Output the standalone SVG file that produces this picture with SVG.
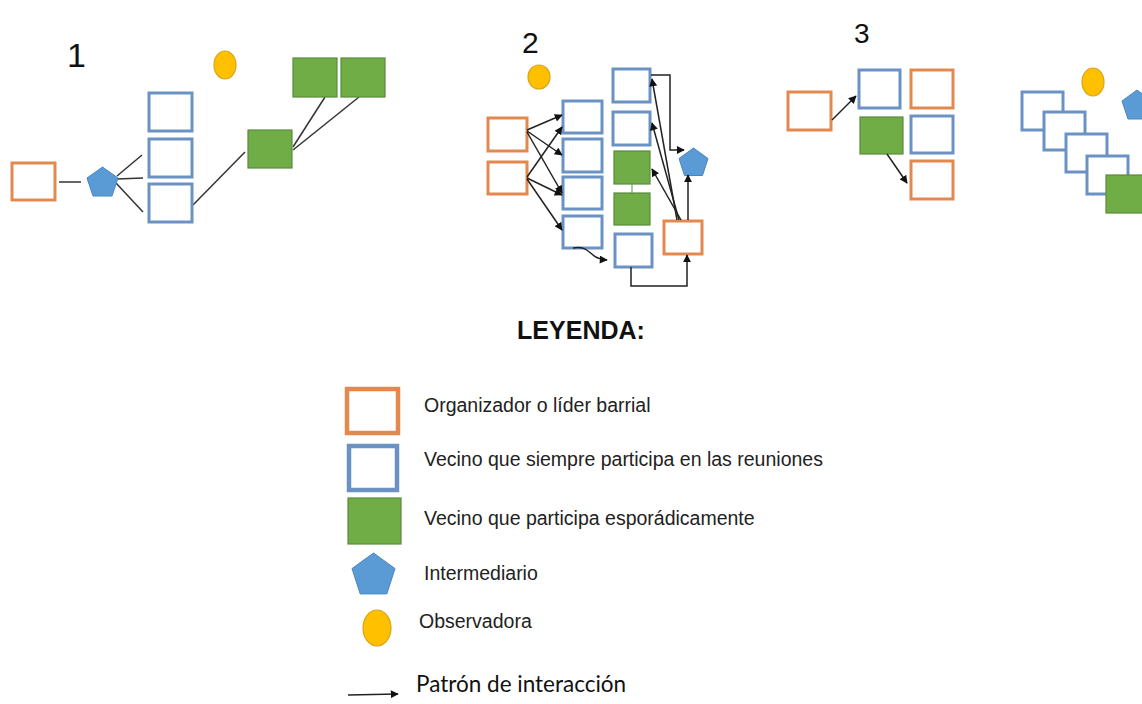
<svg xmlns="http://www.w3.org/2000/svg" width="1142" height="704" viewBox="0 0 1142 704">
<style>
.org{fill:#fff;stroke:#E3894F;stroke-width:3}
.vec{fill:#fff;stroke:#6A93C4;stroke-width:3}
.esp{fill:#70AD47;stroke:#5A8C3A;stroke-width:1.2}
.int{fill:#5B9BD5;stroke:#4A86BE;stroke-width:1}
.obs{fill:#FFC000;stroke:#D9A41A;stroke-width:1.2}
.lnk{fill:none;stroke:#333;stroke-width:1.5}
.arr{fill:none;stroke:#222;stroke-width:1.5;marker-end:url(#ah)}
.num{font-family:"Liberation Sans",Arial,sans-serif;fill:#111}
.leg{font-family:"Liberation Sans",Arial,sans-serif;font-size:19.5px;fill:#222}
.legbox{stroke-width:4.5}
</style>
<defs>
<marker id="ah" viewBox="0 0 10 10" refX="9" refY="5" markerWidth="8.5" markerHeight="8" orient="auto" markerUnits="userSpaceOnUse">
<path d="M0,0 L10,5 L0,10 z" fill="#111"/>
</marker>
</defs>
<rect width="1142" height="704" fill="#fff"/>

<!-- Panel 1 -->
<g id="panel1">
<text class="num" x="67" y="67" font-size="34">1</text>
<g id="p1-connectors">
<line class="lnk" x1="59" y1="182" x2="81" y2="182"/>
<line class="lnk" x1="117" y1="176" x2="142" y2="155"/>
<line class="lnk" x1="117" y1="179" x2="143" y2="178"/>
<line class="lnk" x1="116" y1="183" x2="143" y2="212"/>
<line class="lnk" x1="193" y1="205" x2="245" y2="152"/>
<line class="lnk" x1="293" y1="147" x2="325" y2="97"/>
<line class="lnk" x1="293" y1="150" x2="359" y2="97"/>
</g>
<g id="p1-org"><rect class="org" x="12" y="163" width="43" height="37"/></g>
<g id="p1-int"><polygon class="int" points="102.5,167 118,178 112,196 93,196 87,178"/></g>
<g id="p1-vec1"><rect class="vec" x="149" y="93" width="43" height="38"/></g>
<g id="p1-vec2"><rect class="vec" x="149" y="139" width="43" height="38"/></g>
<g id="p1-vec3"><rect class="vec" x="149" y="184" width="43" height="38"/></g>
<g id="p1-esp1"><rect class="esp" x="248" y="130" width="44" height="38"/></g>
<g id="p1-esp2"><rect class="esp" x="293" y="58" width="44" height="39"/></g>
<g id="p1-esp3"><rect class="esp" x="341" y="58" width="44" height="39"/></g>
<g id="p1-obs"><ellipse class="obs" cx="225" cy="65" rx="11" ry="14"/></g>
</g>

<!-- Panel 2 -->
<g id="panel2">
<text class="num" x="522" y="53" font-size="30">2</text>
<g id="p2-obs"><ellipse class="obs" cx="539" cy="77" rx="11" ry="12"/></g>
<g id="p2-org1"><rect class="org" x="488" y="118" width="39" height="33"/></g>
<g id="p2-org2"><rect class="org" x="488" y="162" width="39" height="32"/></g>
<g id="p2-vec1"><rect class="vec" x="563" y="101" width="39" height="32"/></g>
<g id="p2-vec2"><rect class="vec" x="563" y="139" width="39" height="33"/></g>
<g id="p2-vec3"><rect class="vec" x="563" y="177" width="39" height="32"/></g>
<g id="p2-vec4"><rect class="vec" x="563" y="216" width="39" height="32"/></g>
<g id="p2-vec5"><rect class="vec" x="613" y="69" width="37" height="33"/></g>
<g id="p2-vec6"><rect class="vec" x="613" y="112" width="37" height="33"/></g>
<g id="p2-esp1"><rect class="esp" x="614" y="151" width="36" height="33"/></g>
<g id="p2-esp2"><rect class="esp" x="614" y="193" width="36" height="32"/></g>
<g id="p2-vec7"><rect class="vec" x="615" y="234" width="37" height="33"/></g>
<g id="p2-org3"><rect class="org" x="664" y="221" width="38" height="33"/></g>
<g id="p2-int"><polygon class="int" points="693.5,148 708,158.5 702.5,175.5 684.5,175.5 679,158.5"/></g>
<g id="p2-connectors">
<line x1="632" y1="184" x2="632" y2="193" stroke="#7a9a6a" stroke-width="1.2"/>
<line class="arr" x1="527" y1="130" x2="562" y2="115"/>
<line class="arr" x1="527" y1="131" x2="562" y2="155"/>
<line class="arr" x1="527" y1="132" x2="562" y2="193"/>
<line class="arr" x1="527" y1="177" x2="562" y2="127"/>
<line class="arr" x1="527" y1="178" x2="562" y2="195"/>
<line class="arr" x1="527" y1="179" x2="562" y2="230"/>
<path class="arr" d="M573,248 C592,245 588,259 607,260"/>
<path class="arr" d="M631,267 L631,286 L687,286 L687,255"/>
<line class="arr" x1="677" y1="220" x2="652" y2="79"/>
<line class="arr" x1="679" y1="220" x2="652" y2="123"/>
<line class="arr" x1="681" y1="220" x2="652" y2="169"/>
<line class="arr" x1="688" y1="220" x2="688" y2="175"/>
<path class="arr" d="M651,75 L670,75 L670,150 L684,150"/>
</g>
</g>

<!-- Panel 3 -->
<g id="panel3">
<text class="num" x="854" y="43" font-size="28">3</text>
<g id="p3-org1"><rect class="org" x="788" y="92" width="43" height="38"/></g>
<g id="p3-vec1"><rect class="vec" x="859" y="70" width="41" height="38"/></g>
<g id="p3-org2"><rect class="org" x="911" y="70" width="42" height="38"/></g>
<g id="p3-esp"><rect class="esp" x="860" y="117" width="43" height="37"/></g>
<g id="p3-vec2"><rect class="vec" x="911" y="116" width="42" height="37"/></g>
<g id="p3-org3"><rect class="org" x="911" y="161" width="42" height="38"/></g>
<g id="p3-connectors">
<line class="arr" x1="832" y1="120" x2="856" y2="96"/>
<line class="arr" x1="887" y1="154" x2="907" y2="183"/>
</g>
</g>

<!-- Panel 4 (cropped) -->
<g id="panel4">
<g id="p4-obs"><ellipse class="obs" cx="1093" cy="82" rx="11" ry="14"/></g>
<g id="p4-int"><polygon class="int" points="1137,90 1152,101 1146,119 1128,119 1122,101"/></g>
<g id="p4-vec1"><rect class="vec" x="1022" y="92" width="41" height="38"/></g>
<g id="p4-vec2"><rect class="vec" x="1044" y="112" width="41" height="38"/></g>
<g id="p4-vec3"><rect class="vec" x="1066" y="134" width="41" height="38"/></g>
<g id="p4-vec4"><rect class="vec" x="1087" y="156" width="41" height="38"/></g>
<g id="p4-esp"><rect class="esp" x="1106" y="175" width="44" height="38"/></g>
</g>

<!-- Legend -->
<g id="legend">
<text x="581" y="339" text-anchor="middle" font-family="'Liberation Sans',Arial,sans-serif" font-weight="bold" font-size="25" fill="#111">LEYENDA:</text>
<g id="leg-org"><rect class="org legbox" x="347" y="389" width="51" height="44"/><text class="leg" x="424" y="412">Organizador o líder barrial</text></g>
<g id="leg-vec"><rect class="vec legbox" x="349" y="446" width="48" height="44"/><text class="leg" x="424" y="466">Vecino que siempre participa en las reuniones</text></g>
<g id="leg-esp"><rect class="esp" x="348" y="498" width="53" height="46"/><text class="leg" x="424" y="525">Vecino que participa esporádicamente</text></g>
<g id="leg-int"><polygon class="int" points="373.5,553 395,568.6 386.8,593.9 360.2,593.9 352,568.6"/><text class="leg" x="424" y="580">Intermediario</text></g>
<g id="leg-obs"><ellipse class="obs" cx="377" cy="628" rx="14" ry="18"/><text class="leg" x="419" y="628">Observadora</text></g>
<g id="leg-arr"><line class="arr" x1="348" y1="695" x2="398" y2="694"/><text x="416" y="692" font-family="Lato,'Open Sans',sans-serif" font-size="22.5" fill="#111">Patrón de interacción</text></g>
</g>
</svg>
